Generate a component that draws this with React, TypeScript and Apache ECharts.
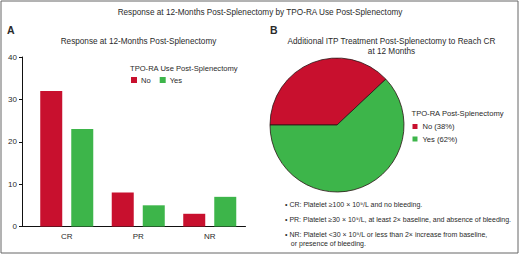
import React, { useEffect, useRef } from "react";
import * as echarts from "echarts";

const categories = ["CR", "PR", "NR"];
const seriesNames = ["No", "Yes"];
const noValues = [32, 8, 3];
const yesValues = [23, 5, 7];
const yTicks = { min: 0, max: 40, interval: 10 };
const pieNames = ["No (38%)", "Yes (62%)"];
const pieValues = [38, 62];
const notes = [
  "• CR: Platelet ≥100 × 10⁹/L and no bleeding.",
  "• PR: Platelet ≥30 × 10⁹/L, at least 2× baseline, and absence of bleeding.",
  "• NR: Platelet <30 × 10⁹/L or less than 2× increase from baseline,",
  "   or presence of bleeding.",
];

const RED = "#c8102e";
const GREEN = "#3db54a";
const FONT = "'Liberation Sans', Arial, sans-serif";
const TXT = "#2a2a2a";

export default function App() {
  const ref = useRef<HTMLDivElement>(null);
  useEffect(() => {
    if (!ref.current) return;
    const chart = echarts.init(ref.current, null, { renderer: "svg" });
    const noteY = [204, 219.5, 234.5, 243.5];
    const t = (text: string, x: number, y: number, size: number, align = "center", weight = "normal") => ({
      type: "text",
      x,
      y,
      style: { text, align, verticalAlign: "middle", fontSize: size, fontWeight: weight, fill: TXT, fontFamily: FONT },
    });
    chart.setOption({
      animation: false,
      textStyle: { fontFamily: FONT },
      color: [RED, GREEN],
      grid: { left: 31, width: 214.5, top: 57, height: 169.5 },
      xAxis: {
        type: "category",
        data: categories,
        axisLine: { lineStyle: { color: "#111", width: 1 } },
        axisTick: { alignWithLabel: true, length: 3, interval: (i: number) => i === 0, lineStyle: { color: "#111" } },
        axisLabel: { fontSize: 8, color: TXT, margin: 6 },
      },
      yAxis: {
        type: "value",
        min: yTicks.min,
        max: yTicks.max,
        interval: yTicks.interval,
        offset: 9,
        axisLine: { show: true, lineStyle: { color: "#111", width: 1 } },
        axisTick: { show: true, length: 3, lineStyle: { color: "#111" } },
        splitLine: { show: false },
        axisLabel: { fontSize: 8, color: TXT, margin: 5 },
      },
      legend: [
        {
          data: seriesNames,
          left: 131,
          top: 76,
          padding: 0,
          orient: "horizontal",
          icon: "rect",
          itemWidth: 6,
          itemHeight: 6,
          itemGap: 9,
          itemStyle: { borderWidth: 0 },
          textStyle: { fontSize: 7.6, color: TXT, padding: [0, 0, 0, -1] },
        },
        {
          data: pieNames,
          left: 412.5,
          top: 122.5,
          padding: 0,
          orient: "vertical",
          icon: "rect",
          itemWidth: 5,
          itemHeight: 5,
          itemGap: 4.5,
          itemStyle: { borderWidth: 0 },
          textStyle: { fontSize: 7.6, color: TXT },
        },
      ],
      series: [
        {
          type: "bar",
          name: seriesNames[0],
          data: noValues,
          barWidth: 22,
          barGap: "41%",
          itemStyle: { color: RED },
        },
        {
          type: "bar",
          name: seriesNames[1],
          data: yesValues,
          barWidth: 22,
          itemStyle: { color: GREEN },
        },
        {
          type: "pie",
          center: [337, 125],
          radius: 67,
          startAngle: 180,
          clockwise: true,
          label: { show: false },
          labelLine: { show: false },
          itemStyle: { borderColor: "#2a1414", borderWidth: 0.8 },
          data: pieNames.map((n, i) => ({ name: n, value: pieValues[i], itemStyle: { color: i === 0 ? RED : GREEN } })),
        },
      ],
      graphic: [
        {
          type: "rect",
          shape: { x: 1, y: 1, width: 517, height: 252 },
          style: { fill: "none", stroke: "#666", lineWidth: 1 },
          silent: true,
        },
        {
          type: "line",
          shape: { x1: 22, y1: 226.5, x2: 31, y2: 226.5 },
          style: { stroke: "#111", lineWidth: 1 },
        },
        t("Response at 12-Months Post-Splenectomy by TPO-RA Use Post-Splenectomy", 260, 12, 8.2),
        t("A", 7, 29.5, 10.5, "left", "bold"),
        t("B", 270, 29.5, 10.5, "left", "bold"),
        t("Response at 12-Months Post-Splenectomy", 138.5, 41, 8.2),
        t("Additional ITP Treatment Post-Splenectomy to Reach CR", 391.5, 41.5, 8.2),
        t("at 12 Months", 391.5, 51.5, 8.2),
        t("TPO-RA Use Post-Splenectomy", 130, 68.5, 7.6, "left"),
        t("TPO-RA Post-Splenectomy", 411.5, 113.5, 7.6, "left"),
        ...notes.map((n, i) => t(n, 285, noteY[i], 7, "left")),
      ],
    });
    return () => chart.dispose();
  }, []);
  return <div ref={ref} style={{ position: "absolute", left: 0, top: 0, width: 520, height: 255, background: "#fff" }} />;
}
